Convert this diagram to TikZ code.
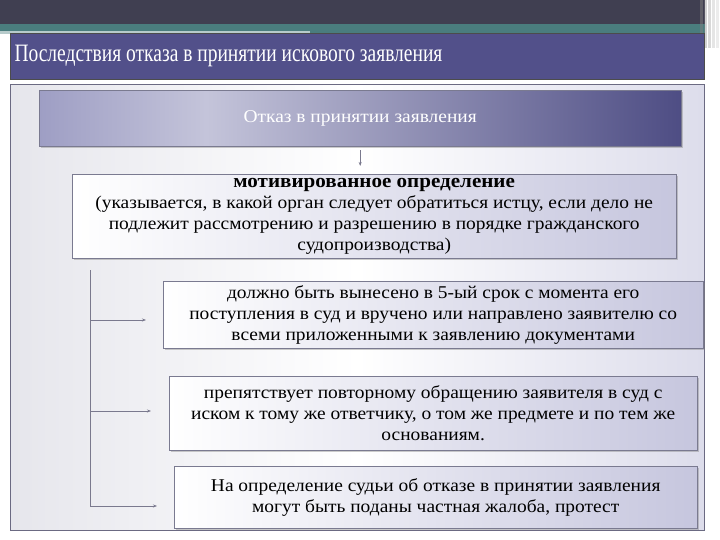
\documentclass[tikz,border=0pt]{standalone}
\usepackage{fontspec}
\setmainfont{Liberation Serif}
\newfontfamily\titlefont[FakeStretch=0.78]{Liberation Serif}
\newfontfamily\boxfont[FakeStretch=1.08]{Liberation Serif}
\usetikzlibrary{shadows, positioning, arrows.meta}

\definecolor{barDark}{HTML}{403F51}
\definecolor{barTeal}{HTML}{4A7D7E}
\definecolor{titleBlue}{HTML}{52508A}
\definecolor{frameGray}{HTML}{6B6A82}
\definecolor{boxLine}{HTML}{7A7A90}
\definecolor{lavLight}{HTML}{C6C6DE}
\definecolor{lavDark}{HTML}{4E4D84}
\definecolor{lavMid}{HTML}{9E9EC4}
\definecolor{lavPale}{HTML}{C4C4DA}
\definecolor{panelGray}{HTML}{E6E6EC}

\pgfdeclarehorizontalshading{headshade}{100bp}{color(0bp)=(lavMid); color(25bp)=(lavMid);
  color(38bp)=(lavPale); color(75bp)=(lavDark); color(100bp)=(lavDark)}

\tikzset{
  infobox/.style={draw=boxLine, left color=white, right color=lavLight,
    anchor=north west, align=center, text=black, inner sep=0pt,
    drop shadow={shadow xshift=1.5pt, shadow yshift=-1.5pt, opacity=0.4},
    font=\boxfont\fontsize{18}{21}\selectfont},
  link/.style={draw=frameGray!90, line width=0.9pt},
  tip/.style={-{Stealth[length=4pt, width=3pt]}}
}

\begin{document}
\begin{tikzpicture}[x=1pt, y=-1pt]
\useasboundingbox (0,0) rectangle (720,540);
\fill[white] (0,0) rectangle (720,540);

%Top bars
\fill[barDark] (0,0) rectangle (705,25);
\fill[barTeal] (0,24) rectangle (705,33);
\fill[barTeal!40] (0,31) rectangle (310,34);
\foreach \xx/\op in {700/0.5, 704/0.35, 708/0.3, 712/0.2, 716/0.15}
  \fill[gray, opacity=\op] (\xx,0) rectangle ++(2.5,48);

%Title
\node[draw=black!70, fill=titleBlue, minimum width=694pt, minimum height=46pt,
  anchor=north west, inner sep=0pt] (title) at (10,33) {};
\node[anchor=west, text=white, font=\titlefont\fontsize{25}{28}\selectfont]
  (titletext) at (11,56) {Последствия отказа в принятии искового заявления};

%Panel
\node[draw=frameGray, left color=panelGray, right color=lavLight!60, middle color=white,
  minimum width=694pt, minimum height=446pt, anchor=north west, inner sep=0pt]
  (panel) at (10,84) {};

%Head box
\node[draw=boxLine, shading=headshade, minimum width=642pt, minimum height=56pt,
  anchor=north west, drop shadow={shadow xshift=1.5pt, shadow yshift=-1.5pt, opacity=0.4},
  text=white, font=\boxfont\fontsize{18}{20}\selectfont] (refusal) at (39,90) {Отказ в принятии заявления};

%Ruling
\node[infobox, minimum width=604pt, minimum height=84pt] (ruling) at (72,174)
  {{\fontsize{19.5}{21}\selectfont\bfseries мотивированное определение}\\
   (указывается, в какой орган следует обратиться истцу, если дело не\\
   подлежит рассмотрению и разрешению в порядке гражданского\\
   судопроизводства)};
\draw[link, tip, shorten <=4pt, shorten >=8pt] (refusal.south) -- (refusal.south |- ruling.north);

%Consequences
\node[infobox, minimum width=540pt, minimum height=67pt] (term) at (163,281)
  {должно быть вынесено в 5-ый срок с момента его\\
   поступления в суд и вручено или направлено заявителю со\\
   всеми приложенными к заявлению документами};
\node[infobox, minimum width=528pt, minimum height=74pt] (repeat) at (169,376)
  {препятствует повторному обращению заявителя в суд с\\
   иском к тому же ответчику, о том же предмете и по тем же\\
   основаниям.};
\node[infobox, minimum width=523pt, minimum height=62pt] (appeal) at (174,466)
  {На определение судьи об отказе в принятии заявления\\
   могут быть поданы частная жалоба, протест};

%Bracket
\coordinate (top) at (90,270);
\coordinate (a1) at (146,320);
\coordinate (a2) at (151,411);
\coordinate (a3) at (157,506);
\draw[link] (top) -- (top |- a3);
\foreach \to in {a1, a2, a3}
  \draw[link, tip] (top |- \to) -- (\to);

\end{tikzpicture}
\end{document}
